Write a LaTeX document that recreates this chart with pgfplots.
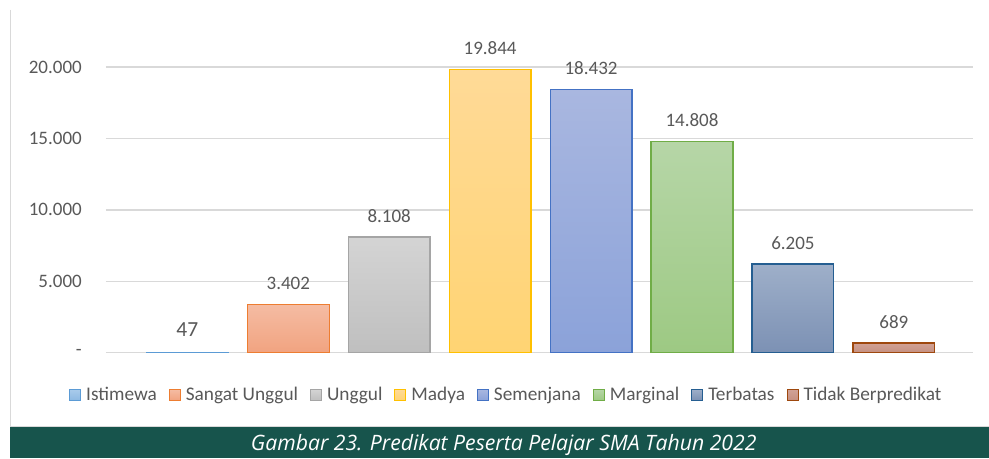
\documentclass[border=0pt]{standalone}
\usepackage{pgfplots}
\pgfplotsset{compat=1.18}
\usepackage{fontspec}
\setmainfont{Carlito}
\newfontfamily\capfont{Open Sans}

\definecolor{txt}{HTML}{595959}
\definecolor{gridc}{HTML}{D9D9D9}
\definecolor{banner}{HTML}{17544C}
% border / top / bottom of each bar
\definecolor{b1}{HTML}{5B9BD5}\definecolor{t1}{HTML}{A9CBEB}\definecolor{u1}{HTML}{8DB9E2}
\definecolor{b2}{HTML}{ED7D31}\definecolor{t2}{HTML}{F5BCA3}\definecolor{u2}{HTML}{F1A380}
\definecolor{b3}{HTML}{A5A5A5}\definecolor{t3}{HTML}{D4D4D4}\definecolor{u3}{HTML}{BFBFBF}
\definecolor{b4}{HTML}{FFC000}\definecolor{t4}{HTML}{FFDA97}\definecolor{u4}{HTML}{FFD473}
\definecolor{b5}{HTML}{4472C4}\definecolor{t5}{HTML}{A9B7E0}\definecolor{u5}{HTML}{8BA2D9}
\definecolor{b6}{HTML}{70AD47}\definecolor{t6}{HTML}{B6D6A7}\definecolor{u6}{HTML}{9DC983}
\definecolor{b7}{HTML}{255E91}\definecolor{t7}{HTML}{9EAFC9}\definecolor{u7}{HTML}{7C91B4}
\definecolor{b8}{HTML}{9E480E}\definecolor{t8}{HTML}{D1A296}\definecolor{u8}{HTML}{C59080}

\pgfkeys{/pgf/number format/assume math mode=true}

\begin{document}
\begin{tikzpicture}[x=1bp,y=1bp]
\fill[white] (0,0) rectangle (989,458);
\draw[gridc, line width=1bp] (10.5,448) -- (10.5,31.5) -- (989,31.5);
\fill[banner] (10,0) rectangle (989,31);
\node[white, font=\capfont\itshape\fontsize{21.2bp}{25bp}\selectfont] at (504,13) {Gambar 23. Predikat Peserta Pelajar SMA Tahun 2022};

\begin{axis}[
  at={(106bp,105bp)}, anchor=south west,
  scale only axis, width=867bp, height=286bp,
  xmin=-0.807, xmax=7.78, ymin=0, ymax=20000,
  clip=false,
  axis line style={draw=none},
  major tick length=0pt,
  xtick=\empty,
  scaled y ticks=false,
  ytick={0,5000,10000,15000,20000},
  yticklabels={-,5.000,10.000,15.000,20.000},
  yticklabel style={anchor=east, inner sep=0pt, xshift=-24bp, text=txt,
    font=\fontsize{19bp}{22bp}\selectfont},
  ymajorgrids,
  grid style={gridc, line width=1.3bp},
  every axis plot/.append style={ybar, bar width=0.81, bar shift=0pt, line width=1.3bp,
    legend image code/.code={\draw[##1, line width=1bp] (0bp,-5.5bp) rectangle (11bp,5.5bp);}},
  nodes near coords,
  nodes near coords style={anchor=south, inner sep=0pt, yshift=14bp, text=txt,
    font=\fontsize{19bp}{22bp}\selectfont,
    /pgf/number format/1000 sep={.}},
  legend columns=8,
  legend style={at={(0.4637,-0.147)}, anchor=center, draw=none, fill=none,
    font=\fontsize{19.3bp}{22bp}\selectfont, text=txt,
    nodes={inner xsep=5bp, inner ysep=1bp},
    /tikz/every even column/.append style={column sep=7bp}},
]
\addplot[draw=b1, top color=t1, bottom color=u1,
  nodes near coords style={font=\fontsize{21.5bp}{24bp}\selectfont, yshift=1bp}] coordinates {(0,47)};
\addlegendentry{Istimewa}
\addplot[draw=b2, top color=t2, bottom color=u2] coordinates {(1,3402)};
\addlegendentry{Sangat Unggul}
\addplot[draw=b3, top color=t3, bottom color=u3] coordinates {(2,8108)};
\addlegendentry{Unggul}
\addplot[draw=b4, top color=t4, bottom color=u4] coordinates {(3,19844)};
\addlegendentry{Madya}
\addplot[draw=b5, top color=t5, bottom color=u5] coordinates {(4,18432)};
\addlegendentry{Semenjana}
\addplot[draw=b6, top color=t6, bottom color=u6] coordinates {(5,14808)};
\addlegendentry{Marginal}
\addplot[draw=b7, top color=t7, bottom color=u7] coordinates {(6,6205)};
\addlegendentry{Terbatas}
\addplot[draw=b8, top color=t8, bottom color=u8] coordinates {(7,689)};
\addlegendentry{Tidak Berpredikat}
\end{axis}
\end{tikzpicture}
\end{document}
